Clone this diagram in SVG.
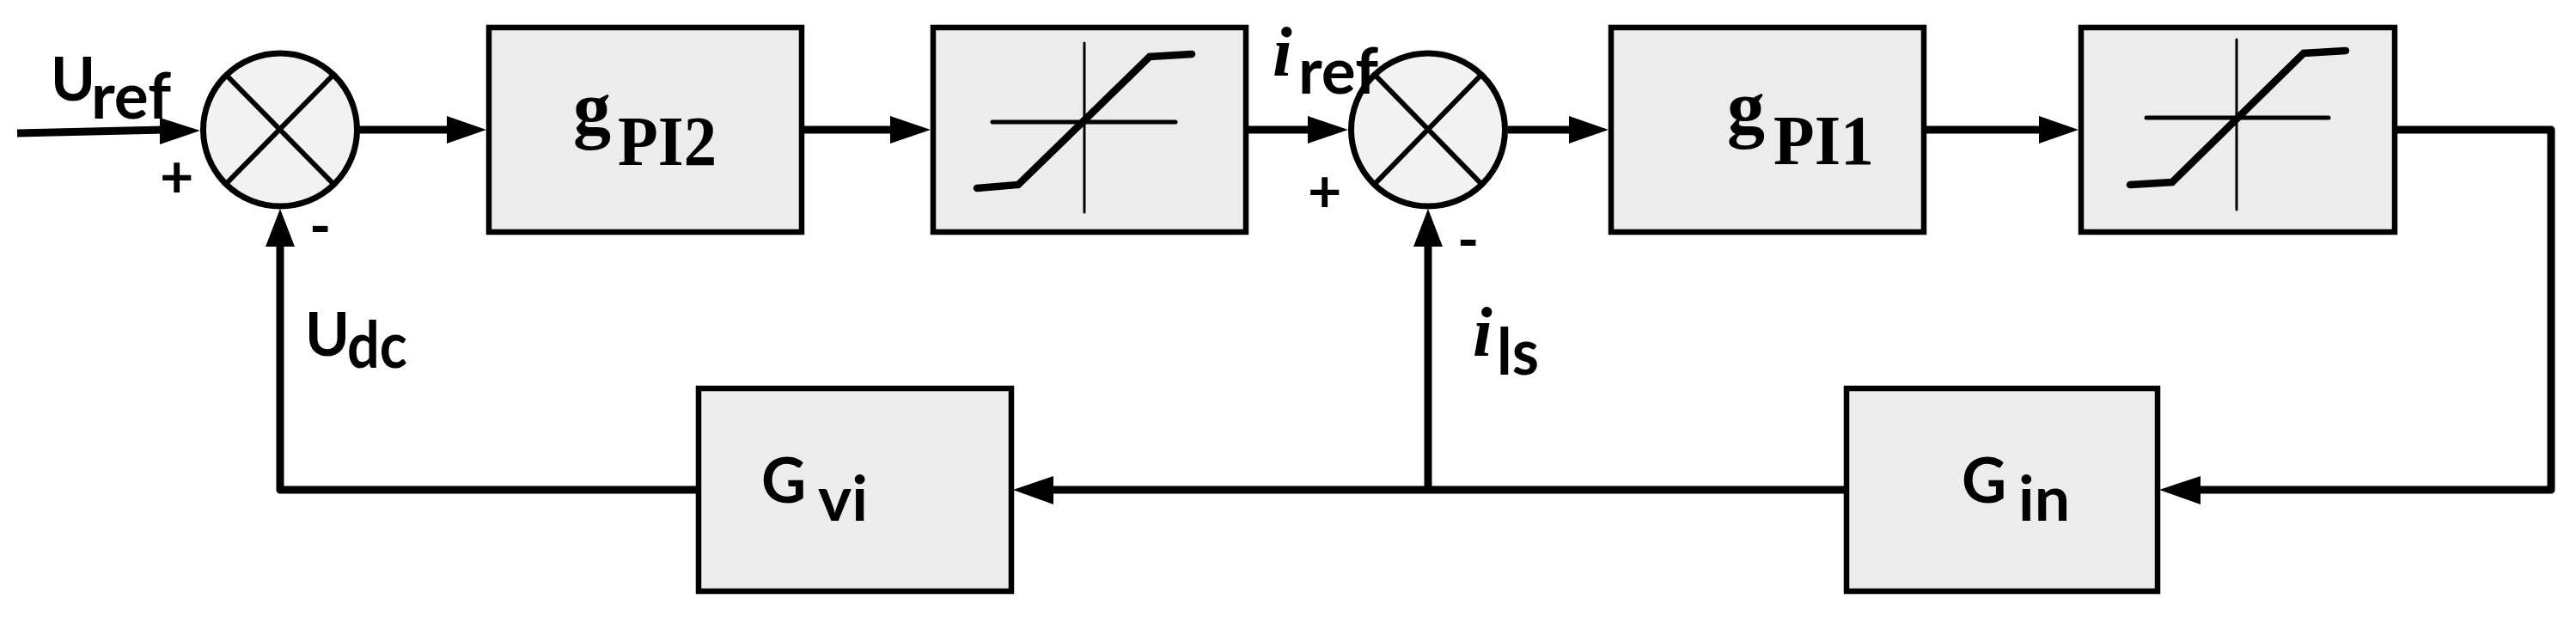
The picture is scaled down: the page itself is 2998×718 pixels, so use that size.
<svg xmlns="http://www.w3.org/2000/svg" width="2998" height="718" viewBox="0 0 2998 718">
<style>
.box{fill:#ececec;stroke:#000;stroke-width:6.5}
.sum{fill:#f2f2f2;stroke:#000;stroke-width:7}
.x{stroke:#000;stroke-width:6;fill:none}
.ax{stroke:#000;fill:none;stroke-linecap:round}
.cv{stroke:#000;stroke-width:8.5;fill:none;stroke-linecap:round;stroke-linejoin:miter}
.w{stroke:#000;stroke-width:9;fill:none;stroke-linejoin:round}
.h{fill:#000}
.sans{font-family:"Lato","Liberation Sans",sans-serif;font-weight:700;fill:#000}
.serif{font-family:"Liberation Serif",serif;font-weight:700;fill:#000}
.ital{font-family:"Liberation Serif",serif;font-weight:700;font-style:italic;fill:#000}
</style>
<rect width="2998" height="718" fill="#fff"/>
<g id="connectors">
<path class="w" d="M20 155L191 151"/>
<path class="w" d="M418 151H525"/>
<path class="w" d="M933 151H1040"/>
<path class="w" d="M1449 151H1526"/>
<path class="w" d="M1755 151H1830"/>
<path class="w" d="M2239 151H2378"/>
<path class="w" d="M2787 151H2969V570H2555"/>
<path class="w" d="M2149 570H1220"/>
<path class="w" d="M813 570H326V282"/>
<path class="w" d="M1662 570V282"/>
<polygon class="h" points="233,152 186,137 186,168"/>
<polygon class="h" points="566,151 520,135 520,167"/>
<polygon class="h" points="1083,151 1036,135 1036,167"/>
<polygon class="h" points="1569,151 1522,135 1522,167"/>
<polygon class="h" points="1872,151 1826,135 1826,167"/>
<polygon class="h" points="2419,151 2373,135 2373,167"/>
<polygon class="h" points="2513,570 2561,554 2561,587"/>
<polygon class="h" points="1179,570 1226,554 1226,587"/>
<polygon class="h" points="326,243 309,287 343,287"/>
<polygon class="h" points="1662,243 1645,287 1679,287"/>
</g>
<g id="sum1">
<ellipse class="sum" cx="326" cy="151" rx="89.5" ry="89"/>
<path class="x" d="M263 87L388 214M388 87L263 214"/>
</g>
<g id="sum2">
<ellipse class="sum" cx="1662" cy="151" rx="89.5" ry="89"/>
<path class="x" d="M1600 87L1724 214M1724 87L1600 214"/>
</g>
<g id="gpi2">
<rect class="box" x="569" y="32" width="364" height="238"/>
<text class="serif" font-size="88" x="667" y="156">g<tspan font-size="82" x="719" y="192" textLength="115" lengthAdjust="spacingAndGlyphs">PI2</tspan></text>
</g>
<g id="sat1">
<rect class="box" x="1086" y="32" width="364" height="238"/>
<path class="ax" stroke-width="3" d="M1262 50V247"/>
<path class="ax" stroke-width="5" d="M1155 142H1368"/>
<path class="cv" d="M1137 219L1185 215L1338 66L1387 63"/>
</g>
<g id="gpi1">
<rect class="box" x="1875" y="32" width="364" height="238"/>
<text class="serif" font-size="88" x="2010" y="155">g<tspan font-size="82" x="2064" y="191" textLength="117" lengthAdjust="spacingAndGlyphs">PI1</tspan></text>
</g>
<g id="sat2">
<rect class="box" x="2422" y="32" width="365" height="238"/>
<path class="ax" stroke-width="3" d="M2603 46V244"/>
<path class="ax" stroke-width="5" d="M2498 137H2710"/>
<path class="cv" d="M2479 215L2528 212L2681 62L2730 59"/>
</g>
<g id="gvi">
<rect class="box" x="813" y="452" width="364" height="236"/>
<text class="sans" font-size="72" x="886" y="585">G<tspan x="952" y="606" textLength="58" lengthAdjust="spacingAndGlyphs">vi</tspan></text>
</g>
<g id="gin">
<rect class="box" x="2149" y="452" width="362" height="236"/>
<text class="sans" font-size="72" x="2283" y="585">G<tspan x="2349" y="606" textLength="60" lengthAdjust="spacingAndGlyphs">in</tspan></text>
</g>
<g id="labels">
<text class="sans" font-size="70" x="59" y="117">U<tspan font-size="74" x="106" y="138" textLength="93" lengthAdjust="spacingAndGlyphs">ref</tspan></text>
<text class="sans" font-size="70" x="355" y="414">U<tspan font-size="74" x="404" y="428" textLength="70" lengthAdjust="spacingAndGlyphs">dc</tspan></text>
<text class="ital" font-size="82" x="1481" y="88">i<tspan class="sans" font-style="normal" font-size="74" x="1511" y="109" textLength="93" lengthAdjust="spacingAndGlyphs">ref</tspan></text>
<text class="ital" font-size="82" x="1714" y="414">i<tspan class="sans" font-style="normal" font-size="74" x="1742" y="436" textLength="49" lengthAdjust="spacingAndGlyphs">ls</tspan></text>
<text class="sans" font-size="68" x="186" y="230" font-weight="400">+</text>
<text class="sans" font-size="68" x="1522" y="247" font-weight="400">+</text>
<text class="sans" font-size="68" x="360" y="287">-</text>
<text class="sans" font-size="68" x="1696" y="303">-</text>
</g>
</svg>
